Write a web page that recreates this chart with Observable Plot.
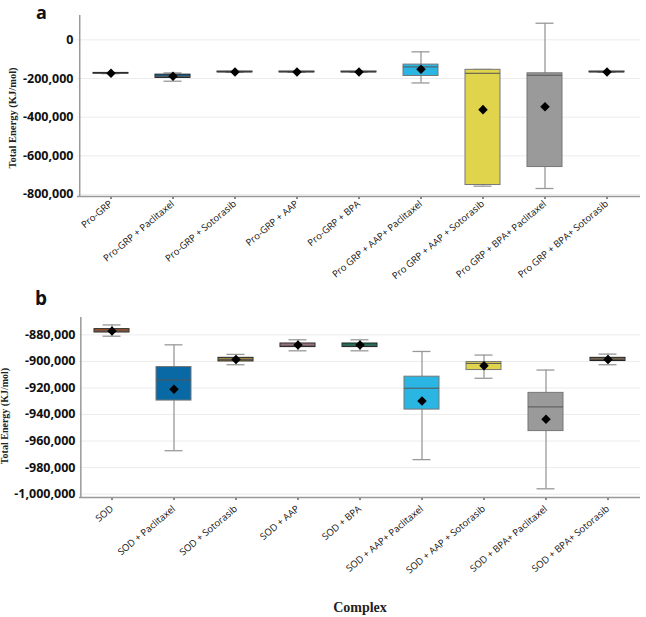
<!DOCTYPE html>
<html>
<head>
<meta charset="utf-8">
<script src="https://cdn.jsdelivr.net/npm/d3@7"></script>
<script src="https://cdn.jsdelivr.net/npm/@observablehq/plot@0.6"></script>
<style>
  html, body { margin: 0; padding: 0; background: #fff; }
  #wrap { position: relative; width: 646px; height: 617px; overflow: hidden; }
  #pa { position: absolute; left: 0; top: 0; }
  #pb { position: absolute; left: 0; top: 305px; }
  #ann { position: absolute; left: 0; top: 0; pointer-events: none; }
  #wrap g[aria-label="y-axis tick label"] { font-weight: 700; font-size: 12.5px; }
  #wrap g[aria-label="x-axis tick label"] { font-size: 9.5px; }
</style>
</head>
<body>
<div id="wrap">
  <div id="pa"></div>
  <div id="pb"></div>
  <svg id="ann" width="646" height="617">
    <text x="36" y="19" font-family="'Open Sans', sans-serif" font-weight="700" font-size="18" fill="#111">a</text>
    <text x="35" y="305" font-family="'Open Sans', sans-serif" font-weight="700" font-size="19" fill="#111">b</text>
    <text transform="translate(14,118) rotate(-90)" text-anchor="middle" dominant-baseline="middle" font-family="'Liberation Serif', serif" font-weight="700" font-size="10.5" fill="#222">Total Energy (KJ/mol)</text>
    <text transform="translate(6,416) rotate(-90)" text-anchor="middle" dominant-baseline="middle" font-family="'Liberation Serif', serif" font-weight="700" font-size="10" fill="#222">Total Energy (KJ/mol)</text>
    <text x="360" y="612" text-anchor="middle" font-family="'Liberation Serif', serif" font-weight="700" font-size="14" fill="#222">Complex</text>
  </svg>
</div>
<script>
// ---------- Panel a (Pro-GRP) ----------
const catsA = ["Pro-GRP", "Pro-GRP + Paclitaxel", "Pro-GRP + Sotorasib", "Pro-GRP + AAP", "Pro-GRP + BPA",
  "Pro GRP + AAP+ Paclitaxel", "Pro GRP + AAP + Sotorasib", "Pro GRP + BPA+ Paclitaxel", "Pro GRP + BPA+ Sotorasib"];
const minA  = [-175000, -214000, -168000, -168000, -168000, -223000, -757000, -769000, -168000];
const q1A   = [-175000, -197000, -168000, -168000, -168000, -187000, -751000, -658000, -168000];
const medA  = [-173000, -190000, -166000, -166000, -166000, -140000, -173000, -183000, -166000];
const q3A   = [-171000, -180000, -164000, -164000, -164000, -128000, -155000, -173000, -164000];
const maxA  = [-171000, -171000, -164000, -164000, -164000, -62000, -153000, 86000, -164000];
const meanA = [-173000, -188000, -166000, -166000, -166000, -152000, -361000, -346000, -166000];
const colorsA = ["#2a2a2a", "#1d5d85", "#2a2a2a", "#2a2a2a", "#2a2a2a", "#2bb5e2", "#e0d44c", "#9a9a9a", "#2a2a2a"];
const yTicksA = [0, -200000, -400000, -600000, -800000];

// ---------- Panel b (SOD) ----------
const catsB = ["SOD", "SOD + Paclitaxel", "SOD + Sotorasib", "SOD + AAP", "SOD + BPA",
  "SOD + AAP+ Paclitaxel", "SOD + AAP + Sotorasib", "SOD + BPA+ Paclitaxel", "SOD + BPA+ Sotorasib"];
const minB  = [-881000, -967300, -902500, -892000, -892000, -974000, -912700, -996000, -902500];
const q1B   = [-878200, -929500, -900000, -889200, -889200, -936300, -906500, -952500, -899700];
const medB  = [-877000, -914000, -898500, -887800, -887800, -920200, -901500, -934300, -898500];
const q3B   = [-875700, -904200, -897300, -886500, -886500, -911500, -900500, -923700, -897300];
const maxB  = [-872500, -887500, -894700, -883700, -883700, -892500, -895200, -906500, -894500];
const meanB = [-877000, -921000, -898500, -887700, -887700, -929800, -903200, -943500, -898500];
const colorsB = ["#a5582b", "#0869a5", "#a5863a", "#b37f96", "#0d7a5f", "#2bb5e2", "#e0d44c", "#9a9a9a", "#7d6647"];
const yTicksB = [-880000, -900000, -920000, -940000, -960000, -980000, -1000000];

function panel(cats, mins, q1s, meds, q3s, maxs, means, colors, opt) {
  const rows = cats.map((c, i) => ({c, min: mins[i], q1: q1s[i], med: meds[i], q3: q3s[i], max: maxs[i], mean: means[i], color: colors[i]}));
  const fmt = d => d.toLocaleString("en-US");
  const step = (646 - opt.marginLeft - 6) / cats.length;
  const span = opt.yDomain[1] - opt.yDomain[0];
  const boxStroke = d => (d.q3 - d.q1) < span * 0.02 ? "#222" : "#777";
  return Plot.plot({
    width: 646,
    height: opt.height,
    marginTop: opt.marginTop,
    marginBottom: opt.marginBottom,
    marginLeft: opt.marginLeft,
    marginRight: 6,
    style: {fontFamily: "'Open Sans', sans-serif", background: "transparent", overflow: "visible"},
    x: {domain: cats, paddingInner: 0.44, paddingOuter: 0.22, label: null},
    y: {domain: opt.yDomain, label: null},
    color: {type: "identity"},
    marks: [
      Plot.gridY(opt.yTicks, {stroke: "#ececec", strokeOpacity: 1}),
      Plot.axisY(opt.yTicks, {tickSize: 0, tickPadding: 4, tickFormat: fmt, fontSize: 12.5, fontWeight: 700, color: "#111", label: null}),
      Plot.axisX({tickSize: 3, tickPadding: opt.xPad, tickRotate: -40, fontSize: 9.5, color: "#111", label: null}),
      Plot.ruleY([opt.yDomain[0]], {stroke: "#999", strokeWidth: 1.5}),
      Plot.ruleX([cats[0]], {x: d => d, dx: -step / 2, stroke: "#999", strokeWidth: 1.5}),
      Plot.ruleX(rows, {x: "c", y1: "min", y2: "max", stroke: "#999", strokeWidth: 1.3}),
      Plot.tickY(rows, {x: "c", y: "min", stroke: "#999", strokeWidth: 1.3, insetLeft: 8.5, insetRight: 8.5}),
      Plot.tickY(rows, {x: "c", y: "max", stroke: "#999", strokeWidth: 1.3, insetLeft: 8.5, insetRight: 8.5}),
      Plot.barY(rows, {x: "c", y1: "q1", y2: "q3", fill: "color", stroke: boxStroke, strokeWidth: 1}),
      Plot.tickY(rows, {x: "c", y: "med", stroke: "#555", strokeWidth: 1}),
      Plot.dot(rows, {x: "c", y: "mean", symbol: "square", r: 3.8, rotate: 45, fill: "#000", stroke: "none"})
    ]
  });
}

document.getElementById("pa").append(panel(catsA, minA, q1A, medA, q3A, maxA, meanA, colorsA, {
  height: 300, marginTop: 15, marginBottom: 104, marginLeft: 77, xPad: 3,
  yDomain: [-810400, 126000], yTicks: yTicksA
}));
document.getElementById("pb").append(panel(catsB, minB, q1B, medB, q3B, maxB, meanB, colorsB, {
  height: 312, marginTop: 12, marginBottom: 120, marginLeft: 79, xPad: 7,
  yDomain: [-1002550, -866900], yTicks: yTicksB
}));
</script>
</body>
</html>
